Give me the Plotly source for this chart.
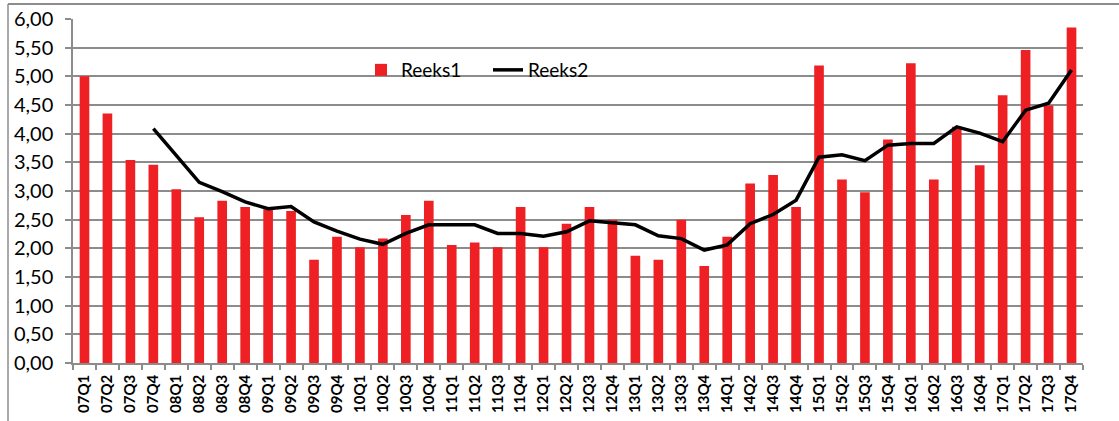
import plotly.graph_objects as go

categories = [f"{y:02d}Q{q}" for y in range(7, 18) for q in range(1, 5)]

reeks1 = [5.00, 4.35, 3.54, 3.46,
          3.03, 2.54, 2.83, 2.72,
          2.68, 2.65, 1.80, 2.20,
          2.02, 2.17, 2.58, 2.83,
          2.06, 2.10, 2.02, 2.72,
          2.02, 2.43, 2.72, 2.50,
          1.87, 1.80, 2.50, 1.69,
          2.20, 3.13, 3.28, 2.72,
          5.19, 3.20, 2.98, 3.90,
          5.23, 3.20, 4.12, 3.45,
          4.67, 5.46, 4.49, 5.85]

reeks2 = [None, None, None, 4.09,
          3.62, 3.15, 2.99, 2.81,
          2.69, 2.73, 2.46, 2.30,
          2.16, 2.07, 2.26, 2.41,
          2.41, 2.41, 2.26, 2.26,
          2.21, 2.29, 2.48, 2.45,
          2.41, 2.22, 2.17, 1.97,
          2.06, 2.43, 2.59, 2.84,
          3.59, 3.63, 3.53, 3.80,
          3.83, 3.83, 4.12, 4.01,
          3.86, 4.41, 4.53, 5.11]

y_ticks = [i * 0.5 for i in range(13)]

FONT = "Lato, 'Open Sans', sans-serif"

fig = go.Figure()
fig.add_trace(go.Bar(x=categories, y=reeks1, name="Reeks1",
                     marker=dict(color="#EE2024", line=dict(width=0))))
fig.add_trace(go.Scatter(x=categories, y=reeks2, name="Reeks2", mode="lines",
                         line=dict(color="black", width=3.5)))

W, H = 1119, 421
L, R, T, B = 73, 1083, 19, 363
pw, ph = R - L, B - T

def px(x):
    return (x - L) / pw

def py(y):
    return (B - y) / ph

fig.update_layout(
    width=W, height=H,
    margin=dict(l=L, r=W - R, t=T, b=H - B, pad=0, autoexpand=False),
    paper_bgcolor="white", plot_bgcolor="white",
    separators=",.",
    bargap=0.58,
    font=dict(family=FONT, color="black"),
    showlegend=True,
    legend=dict(orientation="h", x=px(361), y=py(70), xanchor="left", yanchor="middle",
                bgcolor="rgba(0,0,0,0)", font=dict(size=19, family=FONT),
                entrywidth=82, tracegroupgap=0, traceorder="normal"),
    xaxis=dict(type="category", tickangle=-90, tickson="boundaries", automargin=False,
               ticks="outside", ticklen=5, tickcolor="#8c8c8c", tickwidth=1.5,
               showline=True, linecolor="#8c8c8c", linewidth=1.5,
               showgrid=False, range=[-0.5, len(categories) - 0.5],
               ticklabelstandoff=4,
               tickfont=dict(size=15, family=FONT, weight="bold")),
    yaxis=dict(range=[0, 6], tickvals=y_ticks, tickformat=".2f", automargin=False,
               ticks="outside", ticklen=6, tickcolor="#8c8c8c", tickwidth=1.5,
               showline=True, linecolor="#8c8c8c", linewidth=1.5,
               showgrid=True, gridcolor="#8c8c8c", gridwidth=1.5,
               ticklabelstandoff=8,
               zeroline=False, tickfont=dict(size=20, family=FONT)),
    shapes=[
        dict(type="line", xref="paper", yref="paper",
             x0=px(8), x1=px(1119), y0=py(4), y1=py(4),
             line=dict(color="#8c8c8c", width=2)),
        dict(type="line", xref="paper", yref="paper",
             x0=px(8), x1=px(8), y0=py(4), y1=py(421),
             line=dict(color="#8c8c8c", width=1.5)),
    ],
)

fig.write_html("out.html", config={"displayModeBar": False},
               post_script="document.body.style.margin='0';document.body.style.overflow='hidden';")
